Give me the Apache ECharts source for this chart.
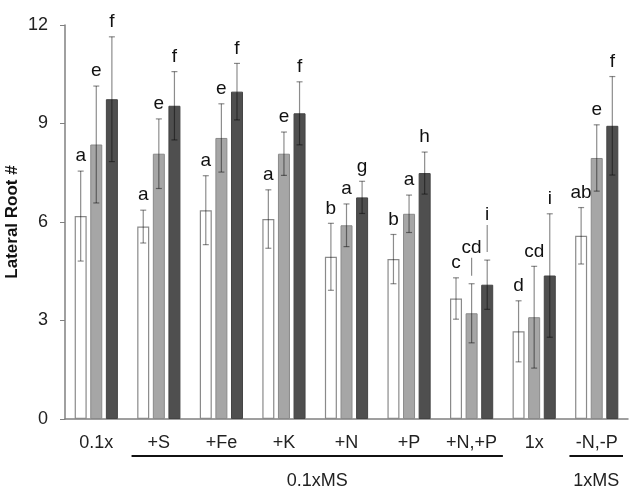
<!DOCTYPE html>
<html>
<head>
<meta charset="utf-8">
<script src="https://cdn.jsdelivr.net/npm/echarts@6/dist/echarts.min.js"></script>
<style>
  html, body { margin: 0; padding: 0; background: #fff; }
  #roots { width: 634px; height: 493px; }
</style>
</head>
<body>
<div id="roots"></div>
<script>
const categories = ['0.1x', '+S', '+Fe', '+K', '+N', '+P', '+N,+P', '1x', '-N,-P'];
const yTicks = [0, 3, 6, 9, 12];

const whiteVals = [6.18, 5.86, 6.36, 6.09, 4.94, 4.87, 3.67, 2.67, 5.58];
const whiteErr  = [1.37, 0.50, 1.05, 0.89, 1.02, 0.75, 0.63, 0.93, 0.86];
const whiteSig  = ['a', 'a', 'a', 'a', 'b', 'b', 'c', 'd', 'ab'];

const greyVals = [8.36, 8.08, 8.56, 8.08, 5.90, 6.25, 3.22, 3.10, 7.95];
const greyErr  = [1.78, 1.06, 1.04, 0.66, 0.65, 0.57, 0.90, 1.55, 1.01];
const greySig  = ['e', 'e', 'e', 'e', 'a', 'a', 'cd', 'cd', 'e'];

const darkVals = [9.74, 9.54, 9.97, 9.31, 6.75, 7.49, 4.09, 4.37, 8.93];
const darkErr  = [1.90, 1.04, 0.86, 0.96, 0.49, 0.64, 0.75, 1.88, 1.50];
const darkSig  = ['f', 'f', 'f', 'f', 'g', 'h', 'i', 'i', 'f'];

// group brackets under the axis: [first category, last category, label]
const groups = [['+S', '+N,+P', '0.1xMS'], ['-N,-P', '-N,-P', '1xMS']];

// labels lifted above the whisker with a leader line (series index, category index, extra px)
const lifted = { '1-6': 21, '2-6': 30 };

const BAR_W = 12;
const STEP = 15.6;
const FONT = '"Liberation Sans", Arial, sans-serif';

const chart = echarts.init(document.getElementById('roots'));

function errSeries(s, vals, errs, sig) {
  return {
    type: 'custom',
    z: 5,
    data: vals.map((v, i) => [i, v, errs[i], sig[i]]),
    renderItem(params, api) {
      const i = api.value(0);
      const v = api.value(1);
      const e = api.value(2);
      const base = api.coord([i, v]);
      const x = base[0] + (s - 1) * STEP;
      const top = api.coord([i, v + e])[1];
      const bot = api.coord([i, v - e])[1];
      const stroke = { stroke: 'rgba(0,0,0,0.45)', lineWidth: 1.2 };
      const lift = lifted[s + '-' + i] || 0;
      const ty = top - 15 - lift;
      const kids = [
        { type: 'line', shape: { x1: x, y1: top, x2: x, y2: bot }, style: stroke },
        { type: 'line', shape: { x1: x - 3, y1: top, x2: x + 3, y2: top }, style: stroke },
        { type: 'line', shape: { x1: x - 3, y1: bot, x2: x + 3, y2: bot }, style: stroke },
        {
          type: 'text',
          x: x, y: ty,
          style: {
            text: api.value(3), font: '19px ' + FONT, fill: '#111',
            align: 'center', verticalAlign: 'middle'
          }
        }
      ];
      if (lift) {
        kids.push({ type: 'line', shape: { x1: x, y1: top - 8, x2: x, y2: ty + 10 }, style: stroke });
      }
      return { type: 'group', children: kids };
    }
  };
}

chart.setOption({
  animation: false,
  grid: { left: 65, right: 6, top: 25, bottom: 74, containLabel: false, outerBoundsMode: 'none' },
  xAxis: {
    type: 'category',
    data: categories,
    axisLine: { lineStyle: { color: '#808080', width: 1.5 } },
    axisTick: { length: 4, lineStyle: { color: '#808080' } },
    axisLabel: { color: '#222', fontSize: 18, fontFamily: FONT, margin: 15, interval: 0, hideOverlap: false }
  },
  yAxis: {
    type: 'value',
    min: yTicks[0],
    max: yTicks[yTicks.length - 1],
    interval: 3,
    name: 'Lateral Root #',
    nameLocation: 'middle',
    nameGap: 44,
    nameMoveOverlap: false,
    nameTextStyle: { fontSize: 17, fontWeight: 'bold', color: '#111', fontFamily: FONT },
    axisLine: { show: true, lineStyle: { color: '#808080', width: 1.5 } },
    axisTick: { show: true, length: 5, lineStyle: { color: '#808080' } },
    axisLabel: { color: '#222', fontSize: 18, fontFamily: FONT, margin: 17 },
    splitLine: { show: false }
  },
  series: [
    {
      type: 'bar', data: whiteVals, barWidth: BAR_W, barGap: '30%',
      itemStyle: { color: '#fff', borderColor: '#8a8a8a', borderWidth: 1.2 }
    },
    {
      type: 'bar', data: greyVals, barWidth: BAR_W, barGap: '30%',
      itemStyle: { color: '#a6a6a6', borderColor: '#8a8a8a', borderWidth: 1 }
    },
    {
      type: 'bar', data: darkVals, barWidth: BAR_W, barGap: '30%',
      itemStyle: { color: '#4f4f4f', borderColor: '#444', borderWidth: 1 }
    },
    errSeries(0, whiteVals, whiteErr, whiteSig),
    errSeries(1, greyVals, greyErr, greySig),
    errSeries(2, darkVals, darkErr, darkSig)
  ]
});

// brackets below the category labels
const c0 = chart.convertToPixel({ xAxisIndex: 0 }, categories[0]);
const c1 = chart.convertToPixel({ xAxisIndex: 0 }, categories[1]);
const half = (c1 - c0) / 2;
const axisY = chart.convertToPixel({ yAxisIndex: 0 }, 0);
const graphics = [];
groups.forEach(([a, b, label]) => {
  const xa = chart.convertToPixel({ xAxisIndex: 0 }, a) - half + 4;
  const xb = chart.convertToPixel({ xAxisIndex: 0 }, b) + half - (a === b ? 5 : 0);
  graphics.push({
    type: 'line',
    shape: { x1: xa, y1: axisY + 37, x2: xb, y2: axisY + 37 },
    style: { stroke: '#111', lineWidth: 2 }
  });
  graphics.push({
    type: 'text',
    x: (xa + xb) / 2, y: axisY + 62,
    style: {
      text: label, font: '18px ' + FONT, fill: '#222',
      align: 'center', verticalAlign: 'middle'
    }
  });
});
chart.setOption({ graphic: graphics });
</script>
</body>
</html>
